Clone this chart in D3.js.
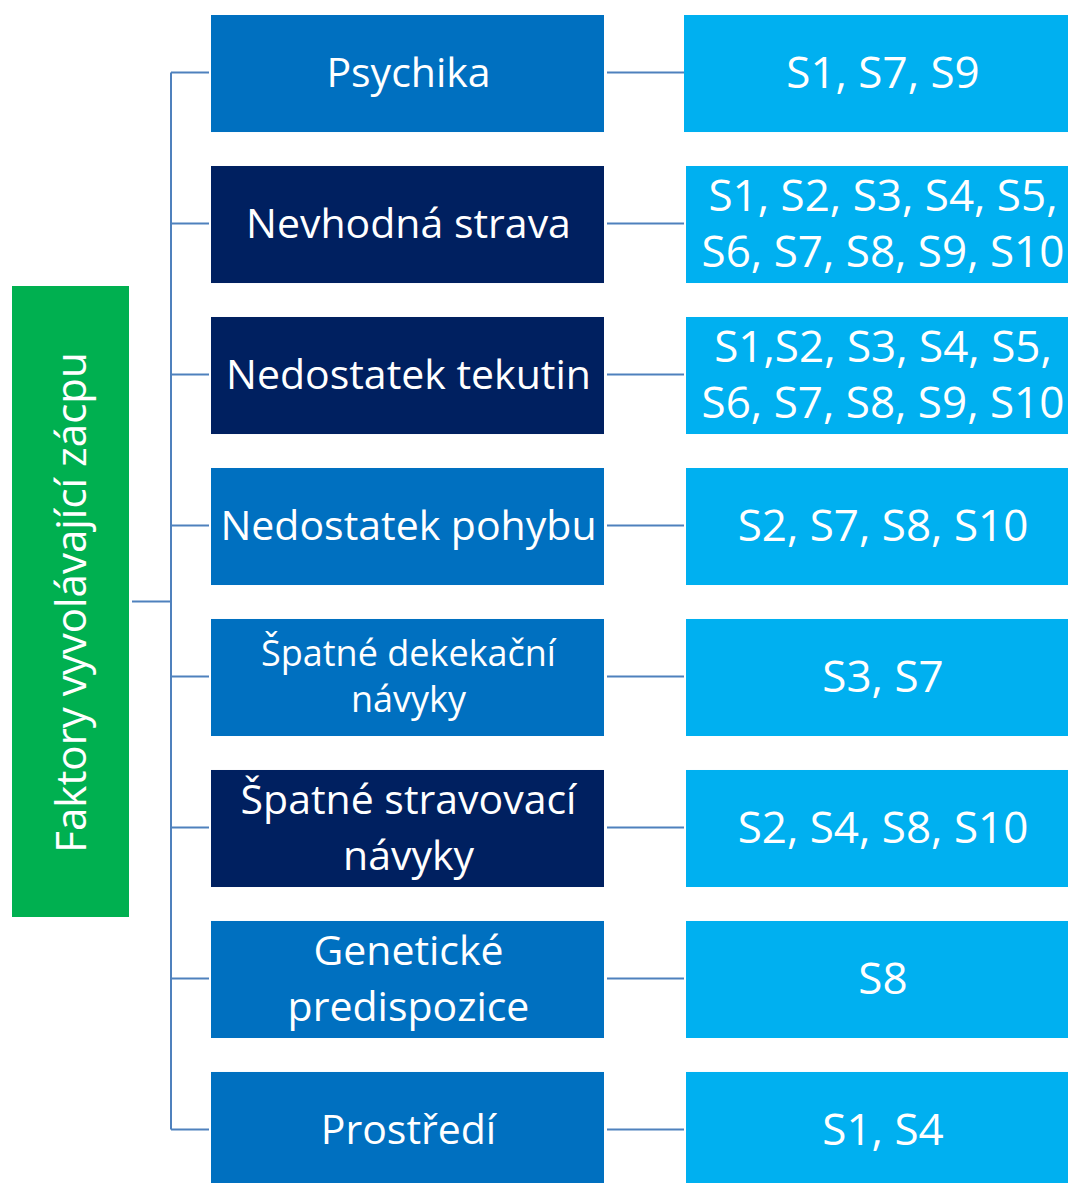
<!DOCTYPE html>
<html>
<head>
<meta charset="utf-8">
<script src="https://cdn.jsdelivr.net/npm/d3@7"></script>
<style>
  html, body { margin: 0; padding: 0; background: #fff; }
  svg { display: block; font-family: "Open Sans", sans-serif; }
</style>
</head>
<body>
<div id="chart"></div>
<script>
// Data
const rootLabel = "Faktory vyvolávající zácpu";
const factors = ["Psychika", "Nevhodná strava", "Nedostatek tekutin", "Nedostatek pohybu",
  "Špatné dekekační\nnávyky", "Špatné stravovací\nnávyky", "Genetické\npredispozice", "Prostředí"];
const subjects = ["S1, S7, S9", "S1, S2, S3, S4, S5,\nS6, S7, S8, S9, S10", "S1,S2, S3, S4, S5,\nS6, S7, S8, S9, S10",
  "S2, S7, S8, S10", "S3, S7", "S2, S4, S8, S10", "S8", "S1, S4"];
const factorTone = ["mid", "dark", "dark", "mid", "mid", "dark", "mid", "mid"];

const width = 1068, height = 1183;
const color = d3.scaleOrdinal()
    .domain(["mid", "dark"])
    .range(["#0070C0", "#002060"]);
const lightBlue = "#00B0F0";
const green = "#00B050";
const lineColor = "#4F81BD";

const svg = d3.select("#chart").append("svg")
    .attr("width", width)
    .attr("height", height);

// rows: step 151, box height 117
const y = d3.scaleBand()
    .domain(d3.range(factors.length))
    .range([15, 1189])
    .paddingInner(0.225)
    .paddingOuter(0);

const midX = 211, midW = 393;
const rightX = 686, rightW = 382;
const trunkX = 171;
const root = { x: 12, y: 286, w: 117, h: 631 };
const rootMidY = root.y + root.h / 2;

const mid = i => y(i) + y.bandwidth() / 2 - 1;

// connectors
const lines = svg.append("g")
    .attr("stroke", lineColor)
    .attr("stroke-width", 2)
    .attr("fill", "none");

lines.append("line")
    .attr("x1", root.x + root.w + 3).attr("x2", trunkX)
    .attr("y1", rootMidY).attr("y2", rootMidY);

lines.append("line")
    .attr("x1", trunkX).attr("x2", trunkX)
    .attr("y1", mid(0)).attr("y2", mid(factors.length - 1));

lines.selectAll(".branch")
    .data(factors)
    .join("line")
    .attr("class", "branch")
    .attr("x1", trunkX).attr("x2", midX - 2)
    .attr("y1", (d, i) => mid(i)).attr("y2", (d, i) => mid(i));

lines.selectAll(".leaf")
    .data(factors)
    .join("line")
    .attr("class", "leaf")
    .attr("x1", midX + midW + 3).attr("x2", rightX - 2)
    .attr("y1", (d, i) => mid(i)).attr("y2", (d, i) => mid(i));

// root box
svg.append("rect")
    .attr("x", root.x).attr("y", root.y)
    .attr("width", root.w).attr("height", root.h)
    .attr("fill", green);

svg.append("text")
    .attr("transform", `translate(${root.x + root.w / 2 - 1},${rootMidY + 1}) rotate(-90)`)
    .attr("text-anchor", "middle")
    .attr("dominant-baseline", "central")
    .attr("fill", "#fff")
    .style("font-size", "42px")
    .text(rootLabel);

function multiline(sel, text, cx, cy, size, lh) {
  const parts = text.split("\n");
  const t = sel.append("text")
      .attr("text-anchor", "middle")
      .attr("fill", "#fff")
      .style("font-size", size + "px");
  parts.forEach((p, k) => {
    t.append("tspan")
      .attr("x", cx)
      .attr("y", cy + (k - (parts.length - 1) / 2) * lh)
      .attr("dy", "0.35em")
      .text(p);
  });
}

// factor boxes
const midG = svg.append("g");
factors.forEach((f, i) => {
  midG.append("rect")
    .attr("x", midX).attr("y", y(i))
    .attr("width", midW).attr("height", y.bandwidth())
    .attr("fill", color(factorTone[i]));
  const small = i === 4;
  multiline(midG, f, midX + midW / 2 + 1, mid(i), small ? 36 : 41, small ? 46 : 56);
});

// subject boxes
const rightG = svg.append("g");
subjects.forEach((s, i) => {
  rightG.append("rect")
    .attr("x", i === 0 ? rightX - 2 : rightX).attr("y", y(i))
    .attr("width", rightW + 2).attr("height", y.bandwidth())
    .attr("fill", lightBlue);
  multiline(rightG, s, rightX + rightW / 2 + 6, mid(i), 44, 56);
});
</script>
</body>
</html>
